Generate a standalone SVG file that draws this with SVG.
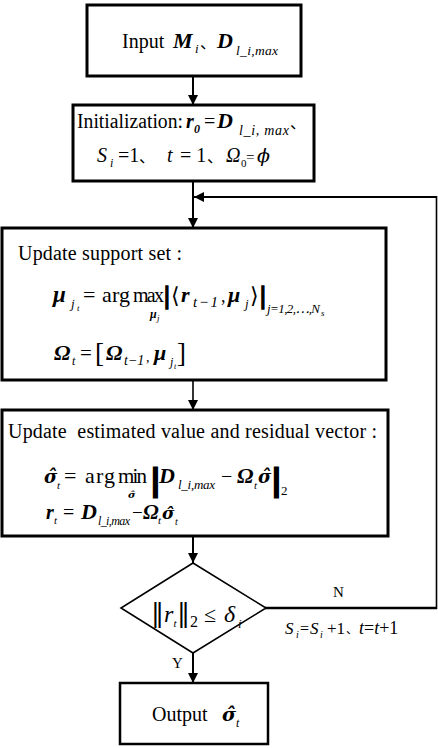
<svg xmlns="http://www.w3.org/2000/svg" width="438" height="748" viewBox="0 0 438 748">
<style>
text{font-family:"Liberation Serif","DejaVu Serif","Noto Sans CJK SC",serif;fill:#000}
.bi{font-weight:bold;font-style:italic}
.it{font-style:italic}
.cjk{font-family:"Noto Sans CJK SC","Noto Sans CJK JP",sans-serif}
.dv{font-family:"DejaVu Serif","Liberation Serif",serif}
.bar{font-weight:bold;stroke:#000}
.box{fill:#fff;stroke:#000;stroke-width:3}
.con{fill:none;stroke:#000;stroke-width:2}
</style>
<defs>
<marker id="ah" viewBox="0 0 10 10" refX="10" refY="5" markerWidth="11" markerHeight="10" markerUnits="userSpaceOnUse" orient="auto">
<path d="M0,0 L10,5 L0,10 z" fill="#000"/>
</marker>
</defs>
<rect width="438" height="748" fill="#fff"/>

<g id="connectors">
<line class="con" x1="193" y1="77" x2="193" y2="105" marker-end="url(#ah)"/>
<line class="con" x1="193" y1="182" x2="193" y2="228" marker-end="url(#ah)"/>
<line class="con" x1="193" y1="381" x2="193" y2="410" marker-end="url(#ah)" style="stroke-width:1.6"/>
<line class="con" x1="193" y1="537" x2="193" y2="563" marker-end="url(#ah)"/>
<line class="con" x1="193" y1="653" x2="193" y2="683" marker-end="url(#ah)"/>
<line class="con" x1="265" y1="608" x2="437" y2="608" style="stroke-width:2.5"/>
<line class="con" x1="436.5" y1="609" x2="436.5" y2="196" style="stroke-width:1.6"/>
<line class="con" x1="437" y1="197" x2="194" y2="197" marker-end="url(#ah)"/>
<text x="333" y="597" font-size="15">N</text>
<text x="172" y="668" font-size="15">Y</text>
<text class="it" x="285" y="634" font-size="17">S</text>
<text class="it" x="296" y="638" font-size="10">i</text>
<text x="300" y="634" font-size="16">=</text>
<text class="it" x="310" y="634" font-size="17">S</text>
<text class="it" x="320" y="638" font-size="10">i</text>
<text x="327" y="634" font-size="17">+1</text>
<text class="cjk" x="346" y="634" font-size="12">、</text>
<text x="359" y="634" font-size="18"><tspan class="it">t</tspan>=<tspan class="it">t</tspan>+1</text>
</g>

<g id="n-input">
<rect class="box" x="87" y="5" width="214" height="71"/>
<text x="122" y="48" font-size="20">Input</text>
<text class="bi" x="173" y="48" font-size="22">M</text>
<text class="it" x="195" y="53" font-size="13">i</text>
<text class="cjk" x="200" y="48" font-size="16">、</text>
<text class="bi" x="217" y="48" font-size="22">D</text>
<text class="it" x="236" y="55" font-size="13.5" textLength="42">l_i,max</text>
</g>

<g id="n-init">
<rect class="box" x="73" y="105" width="241" height="76"/>
<text x="77" y="128" font-size="20" textLength="106" lengthAdjust="spacingAndGlyphs">Initialization:</text>
<text class="bi" x="186" y="128" font-size="20">r</text>
<text class="bi" x="194" y="133" font-size="12">0</text>
<text x="204" y="128" font-size="20">=</text>
<text class="bi" x="217" y="128" font-size="22">D</text>
<text class="it" x="239" y="135" font-size="14" textLength="50">l_i, max</text>
<text class="cjk" x="290" y="128" font-size="16">、</text>
<text class="it" x="97" y="162" font-size="20" fill="#333">S</text>
<text class="it" x="110" y="167" font-size="12">i</text>
<text x="118" y="162" font-size="20">=1</text>
<text class="cjk" x="139" y="162" font-size="16">、</text>
<text class="it" x="167" y="162" font-size="20">t</text>
<text x="180" y="162" font-size="20">= 1</text>
<text class="cjk" x="207" y="162" font-size="16">、</text>
<text class="it" x="226" y="162" font-size="20">Ω</text>
<text x="241" y="167" font-size="11">0</text>
<text x="246" y="162" font-size="15">=</text>
<text class="dv it" x="257" y="162" font-size="19">ϕ</text>
</g>

<g id="n-support">
<rect class="box" x="2" y="228" width="384" height="152"/>
<text x="18" y="260" font-size="20" textLength="164">Update support set :</text>
<text class="bi" x="53" y="302" font-size="23">μ</text>
<text class="it" x="71" y="308" font-size="13">j</text>
<text class="it" x="77" y="311" font-size="9">t</text>
<text x="83" y="302" font-size="22">=</text>
<text x="102" y="302" font-size="22" textLength="28">arg</text>
<text x="133" y="302" font-size="20" textLength="31">max</text>
<text class="bi" x="150" y="318" font-size="12">μ</text>
<text class="it" x="157" y="321" font-size="9">j</text>
<text class="bar" x="164" y="304" font-size="26" stroke-width="1.5">|</text>
<text class="dv" x="171" y="303" font-size="22">⟨</text>
<text class="bi" x="181" y="302" font-size="22">r</text>
<text class="it" x="193" y="307" font-size="15" textLength="25">t−1</text>
<text x="221" y="302" font-size="18">,</text>
<text class="bi" x="228" y="302" font-size="22">μ</text>
<text class="it" x="245" y="308" font-size="13">j</text>
<text class="dv" x="250" y="303" font-size="22">⟩</text>
<text class="bar" x="260" y="304" font-size="26" stroke-width="1.5">|</text>
<text class="it" x="267" y="313" font-size="13" textLength="53">j=1,2,⋯,N</text>
<text class="it" x="321" y="316" font-size="9">s</text>
<text class="bi" x="54" y="360" font-size="22">Ω</text>
<text class="it" x="72" y="365" font-size="12">t</text>
<text x="80" y="360" font-size="21">=</text>
<text x="95" y="362" font-size="27">[</text>
<text class="bi" x="106" y="360" font-size="22">Ω</text>
<text class="it" x="124" y="365" font-size="14">t−1</text>
<text x="146" y="362" font-size="14">,</text>
<text class="bi" x="154" y="360" font-size="22">μ</text>
<text class="it" x="170" y="366" font-size="12">j</text>
<text class="it" x="174" y="369" font-size="8">t</text>
<text x="177" y="362" font-size="27">]</text>
</g>

<g id="n-update">
<rect class="box" x="2" y="410" width="386" height="126"/>
<text x="8" y="438" font-size="20" textLength="369" xml:space="preserve">Update  estimated value and residual vector :</text>
<text class="dv bi" x="44" y="483" font-size="18">σ̂</text>
<text class="it" x="57" y="489" font-size="11">t</text>
<text x="64" y="483" font-size="22">=</text>
<text x="85" y="483" font-size="22" textLength="30">arg</text>
<text x="118" y="483" font-size="21" textLength="29">min</text>
<text class="dv bi" x="128" y="498" font-size="10">σ̂</text>
<text class="bar" x="152" y="490" font-size="31" stroke-width="3">|</text>
<text class="bi" x="159" y="483" font-size="22">D</text>
<text class="it" x="178" y="489" font-size="13" textLength="37">l_i,max</text>
<text x="221" y="483" font-size="20">−</text>
<text class="bi" x="237" y="483" font-size="22">Ω</text>
<text class="it" x="254" y="489" font-size="11">t</text>
<text class="dv bi" x="258" y="483" font-size="18">σ̂</text>
<text class="bar" x="273" y="490" font-size="31" stroke-width="3">|</text>
<text x="281" y="495" font-size="13">2</text>
<text class="bi" x="46" y="519" font-size="20">r</text>
<text class="it" x="54" y="524" font-size="11">t</text>
<text x="63" y="519" font-size="20">=</text>
<text class="bi" x="81" y="519" font-size="22">D</text>
<text class="it" x="98" y="525" font-size="12" textLength="32">l_i,max</text>
<text x="132" y="519" font-size="19">−</text>
<text class="bi" x="143" y="519" font-size="21">Ω</text>
<text class="it" x="158" y="524" font-size="11">t</text>
<text class="dv bi" x="162" y="519" font-size="17">σ̂</text>
<text class="it" x="175" y="525" font-size="10">t</text>
</g>

<g id="n-check">
<polygon points="193,563 266,608 193,653 121,608" fill="#fff" stroke="#000" stroke-width="1.6"/>
<text class="dv" x="151" y="622" font-size="26">‖</text>
<text class="it" x="164" y="622" font-size="24">r</text>
<text class="it" x="173.5" y="627" font-size="11">t</text>
<text class="dv" x="177" y="622" font-size="26">‖</text>
<text x="190" y="627" font-size="16">2</text>
<text x="204" y="622" font-size="22">≤</text>
<text class="it" x="224" y="622" font-size="24">δ</text>
<text class="it" x="238" y="628" font-size="13">i</text>
</g>

<g id="n-output">
<rect class="box" x="120" y="683" width="148" height="61" style="stroke-width:2.5"/>
<text x="152" y="721" font-size="20">Output</text>
<text class="dv bi" x="222" y="721" font-size="19">σ̂</text>
<text class="it" x="236" y="727" font-size="12">t</text>
</g>
</svg>
